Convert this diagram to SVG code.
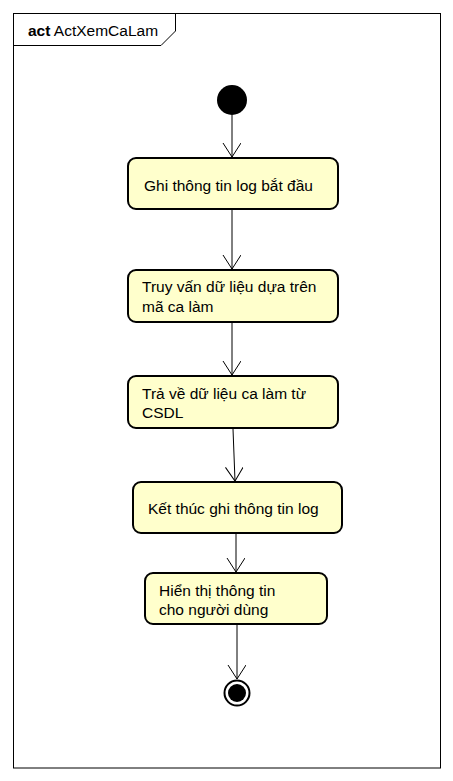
<svg xmlns="http://www.w3.org/2000/svg" width="453" height="781" viewBox="0 0 453 781">
<defs>
<style>
.frame{fill:none;stroke:#000;stroke-width:1}
.act rect{fill:#FFFFCC;stroke:#000;stroke-width:2}
.t{font-family:"Liberation Sans",Arial,sans-serif;font-size:15.5px;fill:#000}
.edge{stroke:#000;stroke-width:1;fill:none}
</style>
<marker id="arr" markerWidth="20" markerHeight="20" refX="14" refY="9" orient="auto" markerUnits="userSpaceOnUse">
<path d="M0,0 L14,9 L0,18" fill="none" stroke="#000" stroke-width="1"/>
</marker>
</defs>
<rect width="453" height="781" fill="#fff"/>
<g id="frame">
<rect class="frame" x="13.5" y="13.5" width="427" height="754.5"/>
<path class="frame" d="M13.5,45.5 H161 L175.5,31 V13.5"/>
<text class="t" x="28" y="36"><tspan font-weight="bold">act</tspan> ActXemCaLam</text>
</g>
<g id="connectors">
<line class="edge" x1="232" y1="115" x2="232" y2="157" marker-end="url(#arr)"/>
<line class="edge" x1="232" y1="210" x2="232" y2="269" marker-end="url(#arr)"/>
<line class="edge" x1="232" y1="323" x2="232" y2="375" marker-end="url(#arr)"/>
<line class="edge" x1="233" y1="429" x2="235" y2="481" marker-end="url(#arr)"/>
<line class="edge" x1="236" y1="534" x2="236" y2="572" marker-end="url(#arr)"/>
<line class="edge" x1="237" y1="625" x2="237" y2="679" marker-end="url(#arr)"/>
</g>
<g id="start">
<circle cx="232" cy="100" r="15" fill="#000"/>
</g>
<g id="n1" class="act">
<rect x="128" y="158" width="210" height="51" rx="8"/>
<text class="t" x="144" y="191" font-size="16">Ghi thông tin log bắt đầu</text>
</g>
<g id="n2" class="act">
<rect x="128" y="270" width="210" height="52" rx="8"/>
<text class="t" x="142" y="292" font-size="16">Truy vấn dữ liệu dựa trên</text>
<text class="t" x="142" y="312" font-size="16">mã ca làm</text>
</g>
<g id="n3" class="act">
<rect x="128" y="376" width="210" height="52" rx="8"/>
<text class="t" x="142" y="399" font-size="16">Trả về dữ liệu ca làm từ</text>
<text class="t" x="142" y="418" font-size="16">CSDL</text>
</g>
<g id="n4" class="act">
<rect x="133" y="482" width="209" height="51" rx="8"/>
<text class="t" x="148" y="514" font-size="16">Kết thúc ghi thông tin log</text>
</g>
<g id="n5" class="act">
<rect x="145" y="573" width="182" height="51" rx="8"/>
<text class="t" x="159" y="596" font-size="16">Hiển thị thông tin</text>
<text class="t" x="159" y="615" font-size="16">cho người dùng</text>
</g>
<g id="end">
<circle cx="237" cy="693" r="12.5" fill="#fff" stroke="#000" stroke-width="2"/>
<circle cx="237" cy="693" r="9" fill="#000"/>
</g>
</svg>
